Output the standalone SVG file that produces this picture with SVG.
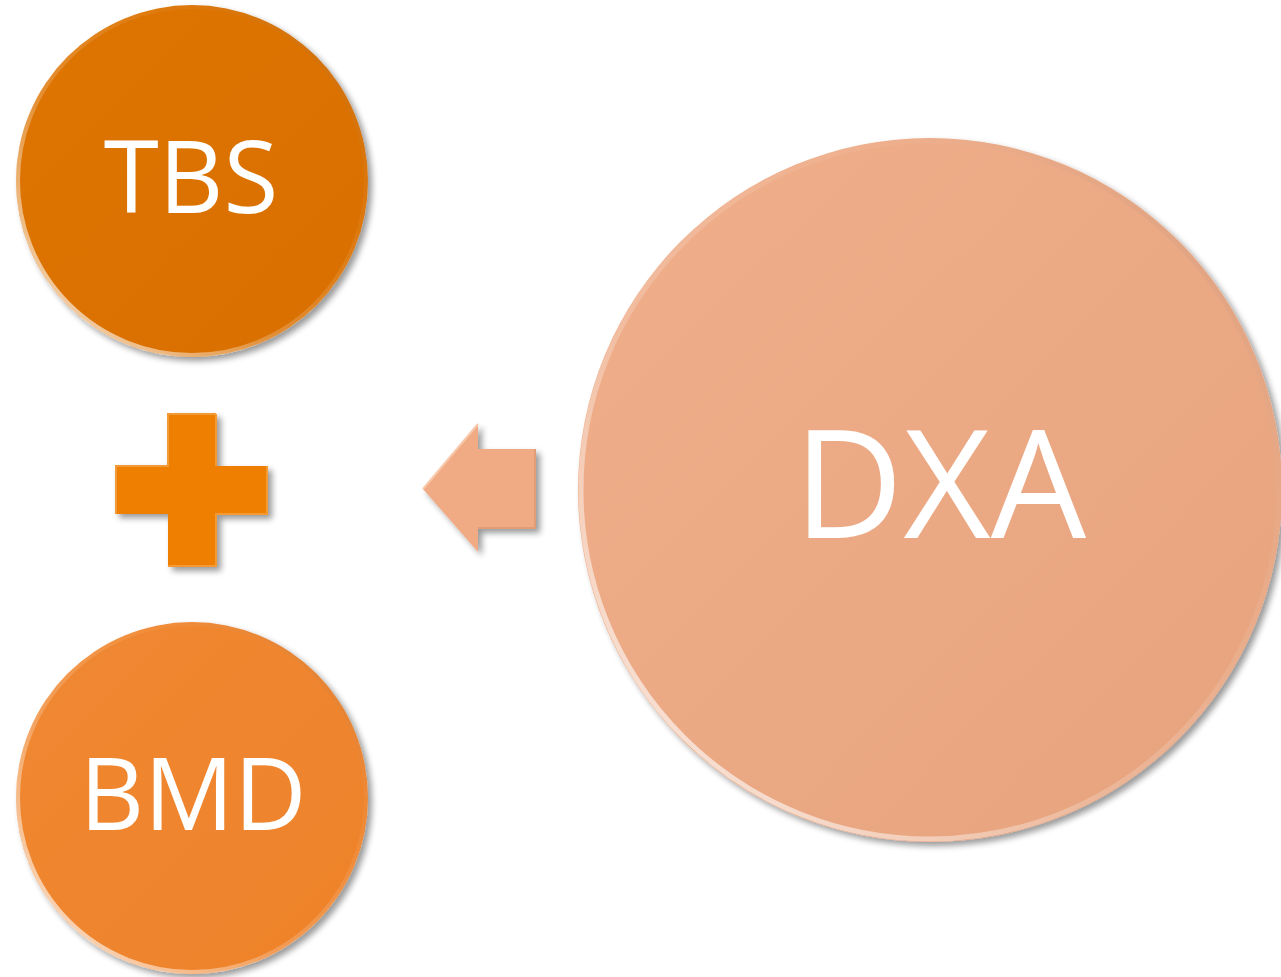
<svg xmlns="http://www.w3.org/2000/svg" width="1281" height="977" viewBox="0 0 1281 977">
<style>
.lbl{font-family:"Open Sans","Liberation Sans",sans-serif;fill:#ffffff;text-anchor:middle}
</style>
<defs>
<filter id="sh" x="-10%" y="-10%" width="125%" height="125%">
<feGaussianBlur in="SourceAlpha" stdDeviation="3"/>
<feOffset dx="4" dy="4" result="b"/>
<feComponentTransfer><feFuncA type="linear" slope="0.4"/></feComponentTransfer>
<feMerge><feMergeNode/><feMergeNode in="SourceGraphic"/></feMerge>
</filter>
<linearGradient id="rim" x1="0" y1="1" x2="1" y2="0">
<stop offset="0" stop-color="#ffffff" stop-opacity="0.85"/>
<stop offset="0.4" stop-color="#ffffff" stop-opacity="0.2"/>
<stop offset="0.7" stop-color="#ffffff" stop-opacity="0.05"/>
<stop offset="1" stop-color="#000000" stop-opacity="0.1"/>
</linearGradient>
<linearGradient id="gTBS" x1="0" y1="0" x2="1" y2="1">
<stop offset="0" stop-color="#DE7400"/><stop offset="1" stop-color="#D96F00"/>
</linearGradient>
<linearGradient id="gBMD" x1="0" y1="0" x2="1" y2="1">
<stop offset="0" stop-color="#F08831"/><stop offset="1" stop-color="#EE822B"/>
</linearGradient>
<linearGradient id="gDXA" x1="0" y1="0" x2="1" y2="1">
<stop offset="0" stop-color="#F0AE8A"/><stop offset="1" stop-color="#E6A37E"/>
</linearGradient>
</defs>
<rect width="1281" height="977" fill="#ffffff"/>
<g id="connectors">
<g filter="url(#sh)">
<polygon points="423,489 478,424 478,449 535,449 535,528 478,528 478,552" fill="#F0AA84"/>
<polyline points="478,528 535,528 535,449" fill="none" stroke="#E29C78" stroke-width="2"/>
<polyline points="423,489 478,424" fill="none" stroke="#F8C8AA" stroke-width="2"/>
</g>
</g>
<g id="plus" filter="url(#sh)">
<path d="M168,414 H216 V466 H267 V514 H216 V566 H168 V514 H116 V466 H168 Z" fill="#EE7F00"/>
<path d="M216,414 V466 M267,466 V514 H216 V566 H168" fill="none" stroke="#F59A30" stroke-width="2"/>
<path d="M116,514 V466 H168 V414 H216" fill="none" stroke="#F39A38" stroke-width="2"/>
</g>
<g id="node-tbs" filter="url(#sh)">
<circle cx="192" cy="181" r="176" fill="url(#gTBS)"/>
<circle cx="192" cy="181" r="174" fill="none" stroke="url(#rim)" stroke-width="4"/>
<text class="lbl" x="191" y="213" font-size="100">TBS</text>
</g>
<g id="node-bmd" filter="url(#sh)">
<circle cx="192" cy="798" r="176" fill="url(#gBMD)"/>
<circle cx="192" cy="798" r="174" fill="none" stroke="url(#rim)" stroke-width="4"/>
<text class="lbl" x="193" y="830" font-size="100">BMD</text>
</g>
<g id="node-dxa" filter="url(#sh)">
<circle cx="930" cy="490" r="352" fill="url(#gDXA)"/>
<circle cx="930" cy="490" r="349" fill="none" stroke="url(#rim)" stroke-width="5"/>
<text class="lbl" x="940" y="538" font-size="151">DXA</text>
</g>
</svg>
